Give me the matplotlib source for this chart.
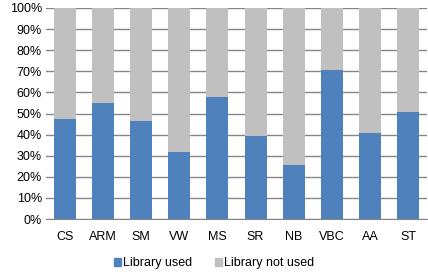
import matplotlib
matplotlib.use("Agg")
import matplotlib.pyplot as plt
from matplotlib.ticker import PercentFormatter
from matplotlib.patches import Patch

categories = ["CS", "ARM", "SM", "VW", "MS", "SR", "NB", "VBC", "AA", "ST"]
used = [47.4, 55.0, 46.4, 31.8, 57.8, 39.3, 25.6, 70.6, 40.8, 50.7]
not_used = [100 - v for v in used]

BLUE = "#4f81bd"
GREY = "#c0c0c0"

plt.rcParams["font.family"] = ["Liberation Sans", "DejaVu Sans"]
plt.rcParams["font.size"] = 9

fig = plt.figure(figsize=(4.28, 2.74), dpi=100)
ax = fig.add_axes([46 / 428, 1 - 219 / 274, 381 / 428, 211 / 274])

x = range(len(categories))
ax.bar(x, used, width=0.58, color=BLUE, zorder=3)
ax.bar(x, not_used, bottom=used, width=0.58, color=GREY, zorder=3)

ax.set_xlim(-0.5, len(categories) - 0.5)
ax.set_ylim(0, 100)
ax.set_yticks(range(0, 101, 10))
ax.yaxis.set_major_formatter(PercentFormatter(decimals=0))
ax.set_xticks(list(x))
ax.set_xticklabels(categories)
ax.grid(axis="y", color="#868686", linewidth=1.0, zorder=0)
for side in ["left", "right", "top"]:
    ax.spines[side].set_visible(False)
ax.spines["bottom"].set_color("#868686")
ax.tick_params(axis="both", length=0, colors="black")
ax.tick_params(axis="x", pad=9)
ax.tick_params(axis="y", pad=3)

handles = [Patch(color=BLUE, label="Library used"), Patch(color=GREY, label="Library not used")]
fig.legend(handles=handles, loc="center", bbox_to_anchor=(0.5, 1 - 263 / 274), ncol=2,
           frameon=False, handlelength=0.6, handleheight=0.6, handletextpad=0.15,
           columnspacing=1.8)

fig.savefig("out.png", dpi=100)
